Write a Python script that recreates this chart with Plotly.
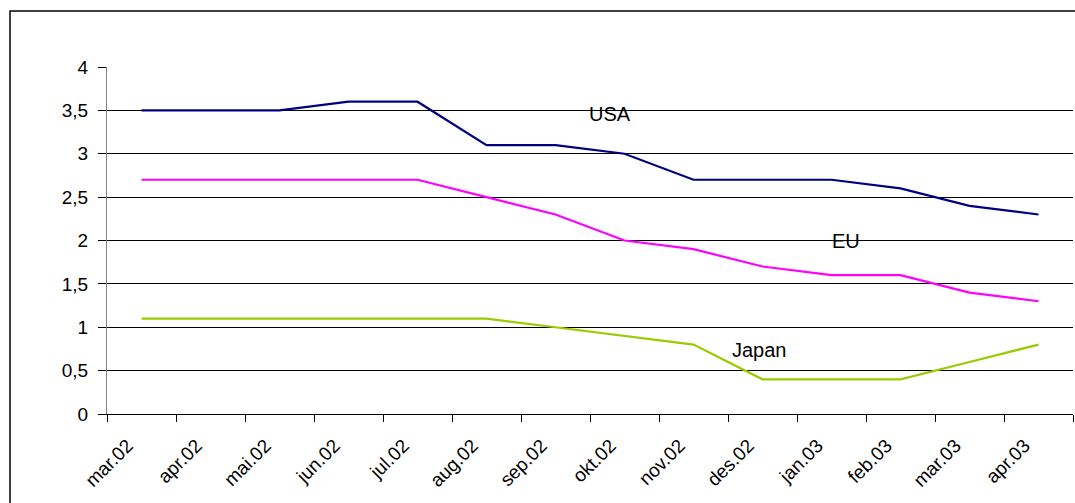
import plotly.graph_objects as go

months = ["mar.02", "apr.02", "mai.02", "jun.02", "jul.02", "aug.02", "sep.02",
          "okt.02", "nov.02", "des.02", "jan.03", "feb.03", "mar.03", "apr.03"]
usa = [3.5, 3.5, 3.5, 3.6, 3.6, 3.1, 3.1, 3.0, 2.7, 2.7, 2.7, 2.6, 2.4, 2.3]
eu = [2.7, 2.7, 2.7, 2.7, 2.7, 2.5, 2.3, 2.0, 1.9, 1.7, 1.6, 1.6, 1.4, 1.3]
japan = [1.1, 1.1, 1.1, 1.1, 1.1, 1.1, 1.0, 0.9, 0.8, 0.4, 0.4, 0.4, 0.6, 0.8]

FONT = "Liberation Sans, Arial, sans-serif"

fig = go.Figure()
fig.add_trace(go.Scatter(x=months, y=usa, mode="lines", name="USA",
                         line=dict(color="#000080", width=2.2)))
fig.add_trace(go.Scatter(x=months, y=eu, mode="lines", name="EU",
                         line=dict(color="#FF00FF", width=2.2)))
fig.add_trace(go.Scatter(x=months, y=japan, mode="lines", name="Japan",
                         line=dict(color="#99CC00", width=2.2)))

for txt, xi, yi in [("USA", 6.79, 3.46), ("EU", 10.21, 1.99), ("Japan", 8.96, 0.74)]:
    fig.add_annotation(x=xi, y=yi, xref="x", yref="y", text=txt, showarrow=False,
                       font=dict(family=FONT, size=20, color="black"))

# outer chart border
fig.add_shape(type="rect", xref="paper", yref="paper",
              x0=-0.1004, x1=1.2, y0=-0.6, y1=1.1614,
              line=dict(color="black", width=1.5), layer="below")

fig.update_layout(
    width=1075, height=503,
    margin=dict(l=107, r=2, t=67, b=89),
    paper_bgcolor="white", plot_bgcolor="white",
    showlegend=False,
    separators=",.",
    font=dict(family=FONT, size=18, color="black"),
)
fig.update_xaxes(type="category", range=[-0.5, 13.5], tickson="boundaries",
                 showgrid=False, showline=True, linecolor="black", linewidth=1,
                 ticks="outside", ticklen=7, tickcolor="black", tickangle=-45,
                 ticklabelstandoff=12, ticklabelshift=-14,
                 tickfont=dict(family=FONT, size=19, color="black"))
fig.update_yaxes(range=[0, 4], dtick=0.5, showgrid=True, gridcolor="black", gridwidth=1,
                 showline=True, linecolor="#808080", linewidth=1,
                 ticks="outside", ticklen=8, tickcolor="black", zeroline=False,
                 ticklabelstandoff=6,
                 tickfont=dict(family=FONT, size=19, color="black"))

fig.write_html("out.html")
